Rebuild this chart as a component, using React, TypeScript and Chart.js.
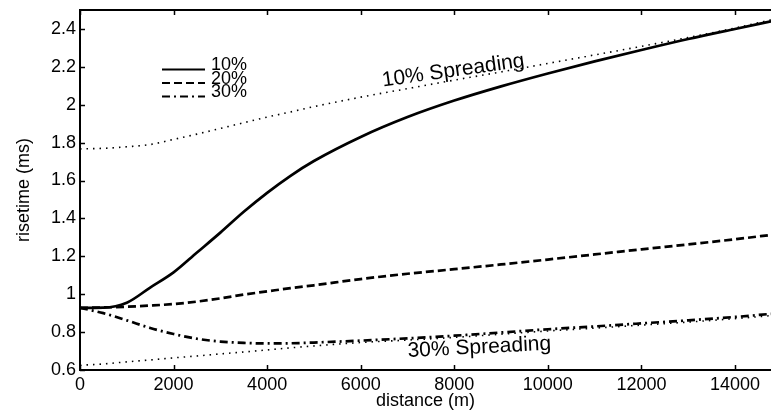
import React, { useEffect, useRef } from 'react';
import { Chart, registerables } from 'chart.js';
Chart.register(...registerables);

const FONT = '"Liberation Sans", Arial, Helvetica, sans-serif';

// distance (m)
const distance = [0, 500, 1000, 1500, 2000, 2500, 3000, 3500, 4000, 4500, 5000, 6000, 7000, 8000, 9000, 10000, 11000, 12000, 13000, 14000, 14770];
// risetime (ms) curves
const rise10 = [0.928, 0.929, 0.955, 1.035, 1.115, 1.22, 1.325, 1.435, 1.535, 1.625, 1.703, 1.83, 1.935, 2.022, 2.097, 2.165, 2.229, 2.289, 2.347, 2.4, 2.44];
const rise20 = [0.928, 0.93, 0.934, 0.94, 0.948, 0.961, 0.978, 0.998, 1.015, 1.032, 1.047, 1.08, 1.108, 1.132, 1.157, 1.183, 1.21, 1.237, 1.263, 1.29, 1.313];
const rise30 = [0.928, 0.9, 0.862, 0.822, 0.79, 0.765, 0.75, 0.743, 0.74, 0.741, 0.745, 0.755, 0.767, 0.781, 0.798, 0.815, 0.83, 0.846, 0.862, 0.88, 0.896];
const spread10 = [1.767, 1.77, 1.778, 1.79, 1.817, 1.845, 1.875, 1.905, 1.935, 1.962, 1.99, 2.04, 2.085, 2.13, 2.173, 2.218, 2.263, 2.308, 2.355, 2.405, 2.448];
const spread30 = [0.625, 0.632, 0.643, 0.653, 0.664, 0.674, 0.685, 0.695, 0.706, 0.717, 0.727, 0.745, 0.758, 0.772, 0.789, 0.806, 0.821, 0.837, 0.853, 0.871, 0.887];

const xTicks = [0, 2000, 4000, 6000, 8000, 10000, 12000, 14000];
const yTicks = [0.6, 0.8, 1, 1.2, 1.4, 1.6, 1.8, 2, 2.2, 2.4];
const xMin = 0;
const xMax = 14770;
const yMin = 0.6;
const yMax = 2.5;

const legendLabels = ['10%', '20%', '30%'];
const spreadLabels = ['10% Spreading', '30% Spreading'];
const spreadLabelX = [6476, 7010];
const spreadLabelY = [2.096, 0.668];
const spreadLabelAngle = [-8, -3];

const DASH_SOLID: number[] = [];
const DASH_DASHED = [8, 4];
const DASH_DASHDOT = [8, 4, 2, 4];
const DASH_DOTTED = [1.5, 5];

export default function App() {
  const ref = useRef<HTMLCanvasElement>(null);

  useEffect(() => {
    const canvas = ref.current;
    if (!canvas) return;

    const decor = {
      id: 'decor',
      afterDatasetsDraw(chart: any) {
        const ctx = chart.ctx as CanvasRenderingContext2D;
        const xs = chart.scales.x;
        const ys = chart.scales.y;
        const area = chart.chartArea;
        ctx.save();
        ctx.strokeStyle = '#000';
        ctx.fillStyle = '#000';
        ctx.setLineDash([]);
        // top border
        ctx.lineWidth = 2;
        ctx.beginPath();
        ctx.moveTo(area.left, area.top);
        ctx.lineTo(area.right, area.top);
        ctx.stroke();
        // inward ticks
        ctx.lineWidth = 1.5;
        const tl = 5;
        for (const v of xTicks) {
          const px = Math.round(xs.getPixelForValue(v)) + 0.5;
          ctx.beginPath();
          ctx.moveTo(px, area.bottom);
          ctx.lineTo(px, area.bottom - tl);
          ctx.moveTo(px, area.top);
          ctx.lineTo(px, area.top + tl);
          ctx.stroke();
        }
        for (const v of yTicks) {
          const py = Math.round(ys.getPixelForValue(v)) + 0.5;
          ctx.beginPath();
          ctx.moveTo(area.left, py);
          ctx.lineTo(area.left + tl, py);
          ctx.stroke();
        }
        // spreading annotations
        ctx.font = '21px ' + FONT;
        ctx.textAlign = 'left';
        ctx.textBaseline = 'alphabetic';
        spreadLabels.forEach((t, i) => {
          ctx.save();
          ctx.translate(xs.getPixelForValue(spreadLabelX[i]), ys.getPixelForValue(spreadLabelY[i]));
          ctx.rotate((spreadLabelAngle[i] * Math.PI) / 180);
          ctx.fillText(t, 0, 0);
          ctx.restore();
        });
        // legend
        const dashes = [DASH_SOLID, DASH_DASHED, DASH_DASHDOT];
        const lineY = [69.5, 83, 96.5];
        const textY = [65.5, 79, 92.5];
        ctx.font = '18px ' + FONT;
        ctx.textBaseline = 'middle';
        legendLabels.forEach((t, i) => {
          ctx.setLineDash(dashes[i]);
          ctx.lineWidth = 2;
          ctx.beginPath();
          ctx.moveTo(162, lineY[i]);
          ctx.lineTo(205, lineY[i]);
          ctx.stroke();
          ctx.setLineDash([]);
          ctx.fillText(t, 211, textY[i]);
        });
        ctx.restore();
      },
    };

    const mk = (label: string, data: number[], dash: number[], width: number) => ({
      label,
      data: distance.map((d, i) => ({ x: d, y: data[i] })),
      borderColor: '#000',
      backgroundColor: '#000',
      borderWidth: width,
      borderDash: dash,
      pointRadius: 0,
      fill: false,
      cubicInterpolationMode: 'monotone' as const,
    });

    const chart = new Chart(canvas, {
      type: 'line',
      data: {
        datasets: [
          mk('10% Spreading', spread10, DASH_DOTTED, 1.6),
          mk('30% Spreading', spread30, DASH_DOTTED, 1.6),
          mk('10%', rise10, DASH_SOLID, 2.7),
          mk('20%', rise20, DASH_DASHED, 2.7),
          mk('30%', rise30, DASH_DASHDOT, 2.7),
        ],
      },
      options: {
        animation: false,
        responsive: false,
        devicePixelRatio: 1,
        layout: { padding: { top: 10, right: 0, left: 0, bottom: 0 } },
        plugins: { legend: { display: false }, tooltip: { enabled: false } },
        scales: {
          x: {
            type: 'linear',
            min: xMin,
            max: xMax,
            grid: { display: false, drawTicks: false, tickLength: 0 },
            border: { display: true, color: '#000', width: 2 },
            afterBuildTicks: (s: any) => {
              s.ticks = xTicks.map((v) => ({ value: v }));
            },
            afterFit: (s: any) => {
              s.height = 43;
              s.paddingLeft = 0;
              s.paddingRight = 0;
            },
            ticks: {
              color: '#000',
              font: { family: FONT, size: 18 },
              padding: 4,
              maxRotation: 0,
              autoSkip: false,
              callback: (v: any) => String(v),
            },
            title: {
              display: true,
              text: 'distance (m)',
              color: '#000',
              font: { family: FONT, size: 18 },
              padding: { top: 0, bottom: 1 },
            },
          },
          y: {
            type: 'linear',
            min: yMin,
            max: yMax,
            grid: { display: false, drawTicks: false, tickLength: 0 },
            border: { display: true, color: '#000', width: 2 },
            afterBuildTicks: (s: any) => {
              s.ticks = yTicks.map((v) => ({ value: v }));
            },
            afterFit: (s: any) => {
              s.width = 80;
              s.paddingTop = 0;
              s.paddingBottom = 0;
            },
            ticks: {
              color: '#000',
              font: { family: FONT, size: 18 },
              padding: 4,
              autoSkip: false,
              callback: (v: any) => String(Math.round(Number(v) * 10) / 10),
            },
            title: {
              display: true,
              text: 'risetime (ms)',
              color: '#000',
              font: { family: FONT, size: 18 },
              padding: { top: 13, bottom: 0 },
            },
          },
        },
      },
      plugins: [decor],
    });
    return () => chart.destroy();
  }, []);

  return (
    <div style={{ position: 'absolute', left: 0, top: 0, width: 771, height: 413, background: '#fff' }}>
      <canvas ref={ref} width={771} height={413} style={{ display: 'block' }} />
    </div>
  );
}
